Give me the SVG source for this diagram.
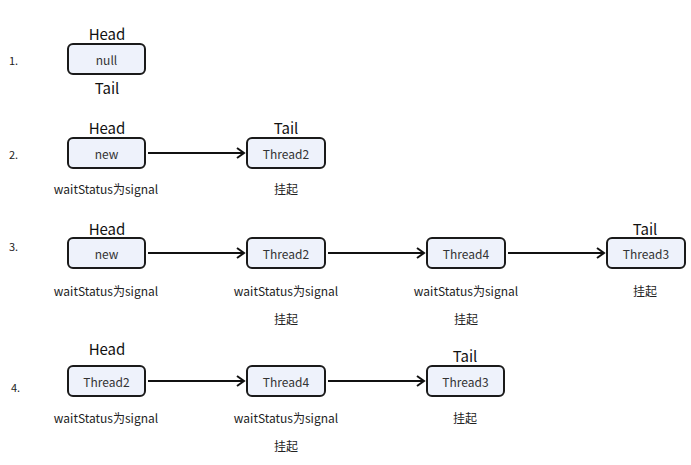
<svg xmlns="http://www.w3.org/2000/svg" width="691" height="465" viewBox="0 0 691 465">
<style>
.box{fill:#eef2fb;stroke:#1a1a1a;stroke-width:2}
.nt{font-family:"Noto Sans CJK SC","Noto Sans",sans-serif;font-size:12px;fill:#333;text-anchor:middle;dominant-baseline:central}
.ht{font-family:"Noto Sans CJK SC","Noto Sans",sans-serif;font-size:15px;fill:#111;text-anchor:middle;dominant-baseline:central}
.lb{font-family:"Noto Sans CJK SC","Noto Sans",sans-serif;font-size:12px;fill:#222;text-anchor:middle;dominant-baseline:central}
.num{font-family:"Noto Sans CJK SC","Noto Sans",sans-serif;font-size:11px;fill:#222;dominant-baseline:central}
.ln{stroke:#111;stroke-width:2;fill:none}
</style>
<defs>
<marker id="ah" markerWidth="10" markerHeight="12" refX="8" refY="6" orient="auto" markerUnits="userSpaceOnUse">
<path d="M1,1 L8,6 L1,11" fill="none" stroke="#111" stroke-width="2"/>
</marker>
</defs>
<rect width="691" height="465" fill="#fff"/>
<g id="labels">
<text class="num" x="9" y="60">1.</text>
<text class="num" x="9" y="154">2.</text>
<text class="num" x="9" y="246">3.</text>
<text class="num" x="11" y="387">4.</text>
<text class="ht" x="107" y="33">Head</text>
<text class="ht" x="107" y="87">Tail</text>
<text class="ht" x="107" y="127">Head</text>
<text class="ht" x="286" y="127">Tail</text>
<text class="lb" x="106" y="188">waitStatus为signal</text>
<text class="lb" x="286" y="188">挂起</text>
<text class="ht" x="107" y="228">Head</text>
<text class="ht" x="645" y="228">Tail</text>
<text class="lb" x="106" y="290">waitStatus为signal</text>
<text class="lb" x="286" y="290">waitStatus为signal</text>
<text class="lb" x="466" y="290">waitStatus为signal</text>
<text class="lb" x="645" y="290">挂起</text>
<text class="lb" x="286" y="318">挂起</text>
<text class="lb" x="466" y="318">挂起</text>
<text class="ht" x="107" y="348">Head</text>
<text class="ht" x="465" y="355">Tail</text>
<text class="lb" x="106" y="417">waitStatus为signal</text>
<text class="lb" x="286" y="417">waitStatus为signal</text>
<text class="lb" x="465" y="417">挂起</text>
<text class="lb" x="286" y="445">挂起</text>
</g>
<g id="connectors">
<line class="ln" x1="148" y1="153" x2="244" y2="153" marker-end="url(#ah)"/>
<line class="ln" x1="148" y1="253" x2="244" y2="253" marker-end="url(#ah)"/>
<line class="ln" x1="328" y1="253" x2="424" y2="253" marker-end="url(#ah)"/>
<line class="ln" x1="508" y1="253" x2="604" y2="253" marker-end="url(#ah)"/>
<line class="ln" x1="148" y1="381" x2="244" y2="381" marker-end="url(#ah)"/>
<line class="ln" x1="328" y1="381" x2="424" y2="381" marker-end="url(#ah)"/>
</g>
<g id="n1-null"><rect class="box" x="68" y="44" width="77" height="30" rx="5"/><text class="nt" x="106.5" y="59">null</text></g>
<g id="n2-new"><rect class="box" x="68" y="138" width="77" height="30" rx="5"/><text class="nt" x="106.5" y="153">new</text></g>
<g id="n2-thread2"><rect class="box" x="247" y="138" width="78" height="30" rx="5"/><text class="nt" x="286" y="153">Thread2</text></g>
<g id="n3-new"><rect class="box" x="68" y="238" width="77" height="30" rx="5"/><text class="nt" x="106.5" y="253">new</text></g>
<g id="n3-thread2"><rect class="box" x="247" y="238" width="78" height="30" rx="5"/><text class="nt" x="286" y="253">Thread2</text></g>
<g id="n3-thread4"><rect class="box" x="427" y="238" width="78" height="30" rx="5"/><text class="nt" x="466" y="253">Thread4</text></g>
<g id="n3-thread3"><rect class="box" x="607" y="238" width="78" height="30" rx="5"/><text class="nt" x="646" y="253">Thread3</text></g>
<g id="n4-thread2"><rect class="box" x="68" y="366" width="77" height="30" rx="5"/><text class="nt" x="106.5" y="381">Thread2</text></g>
<g id="n4-thread4"><rect class="box" x="247" y="366" width="78" height="30" rx="5"/><text class="nt" x="286" y="381">Thread4</text></g>
<g id="n4-thread3"><rect class="box" x="427" y="366" width="77" height="30" rx="5"/><text class="nt" x="465.5" y="381">Thread3</text></g>
</svg>
